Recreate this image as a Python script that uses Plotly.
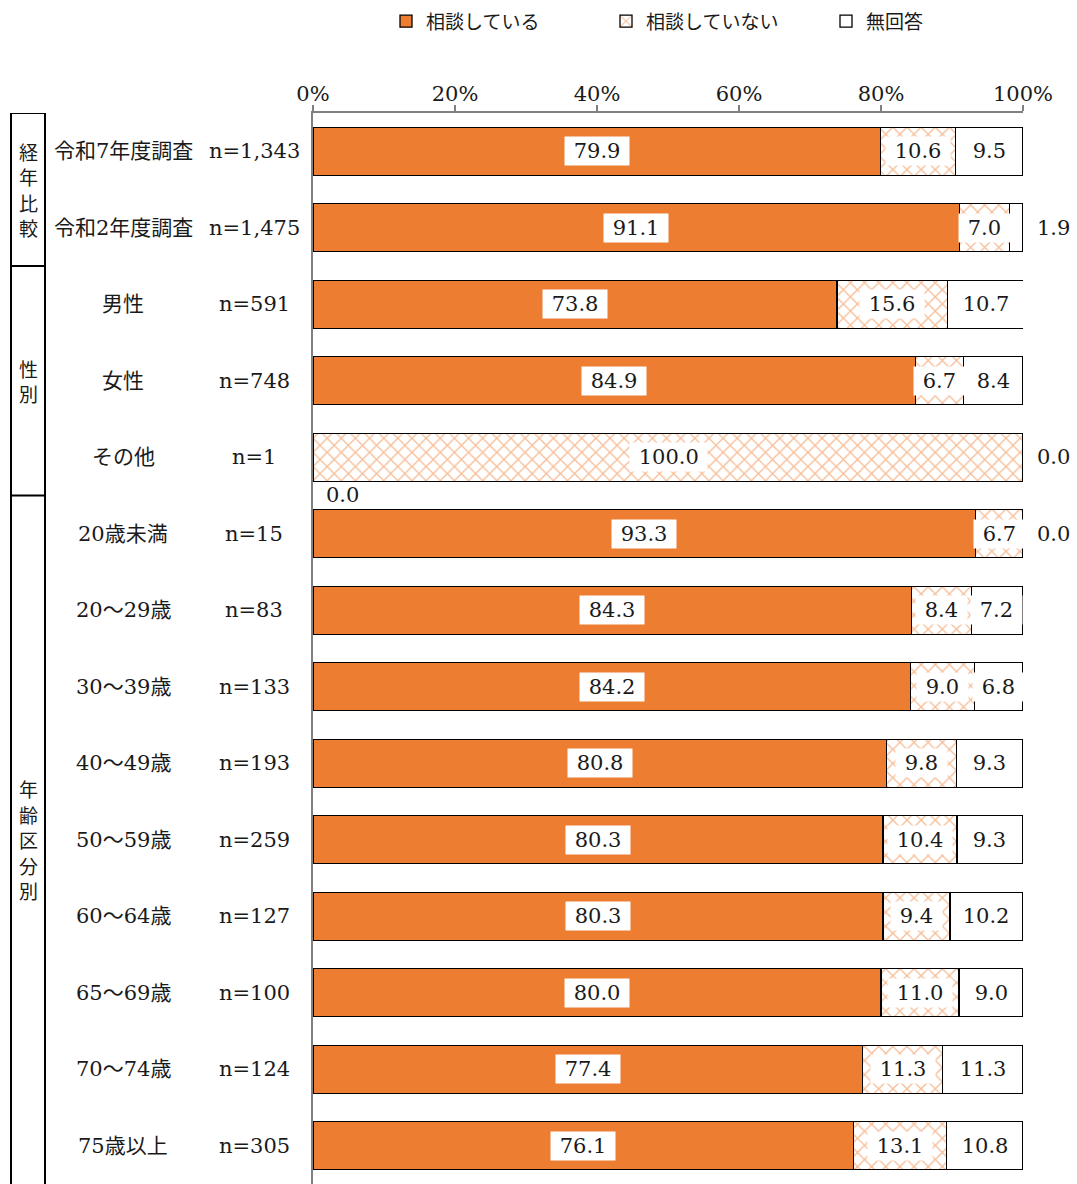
import plotly.graph_objects as go

categories = ["令和7年度調査", "令和2年度調査", "男性", "女性", "その他",
              "20歳未満", "20～29歳", "30～39歳", "40～49歳", "50～59歳",
              "60～64歳", "65～69歳", "70～74歳", "75歳以上"]
n_labels = ["n=1,343", "n=1,475", "n=591", "n=748", "n=1",
            "n=15", "n=83", "n=133", "n=193", "n=259",
            "n=127", "n=100", "n=124", "n=305"]
consulted = [79.9, 91.1, 73.8, 84.9, 0.0, 93.3, 84.3, 84.2, 80.8, 80.3, 80.3, 80.0, 77.4, 76.1]
not_consulted = [10.6, 7.0, 15.6, 6.7, 100.0, 6.7, 8.4, 9.0, 9.8, 10.4, 9.4, 11.0, 11.3, 13.1]
no_answer = [9.5, 1.9, 10.7, 8.4, 0.0, 0.0, 7.2, 6.8, 9.3, 9.3, 10.2, 9.0, 11.3, 10.8]
series_names = ["相談している", "相談していない", "無回答"]
groups = [("経年比較", 0, 1), ("性別", 2, 4), ("年齢区分別", 5, 13)]
tick_vals = [0, 20, 40, 60, 80, 100]
tick_text = ["0%", "20%", "40%", "60%", "80%", "100%"]

ORANGE = "#ED7D31"
NUMFONT = "DejaVu Serif, Noto Sans CJK JP"
JPFONT = "Noto Sans CJK JP"
W, H = 1077, 1184
ML, MR, MT, MB = 313, 54, 113, 0
PW = W - ML - MR

idx = list(range(len(categories)))

fig = go.Figure()
fig.add_trace(go.Bar(
    y=idx, x=consulted, orientation="h", name=series_names[0],
    marker=dict(color=ORANGE, line=dict(color="#000000", width=1.3)),
    hoverinfo="skip"))
fig.add_trace(go.Bar(
    y=idx, x=not_consulted, orientation="h", name=series_names[1],
    marker=dict(color="white", line=dict(color="#000000", width=1.3),
                pattern=dict(shape="x", fgcolor=ORANGE, bgcolor="white",
                             size=10, solidity=0.25, fillmode="overlay")),
    hoverinfo="skip"))
fig.add_trace(go.Bar(
    y=idx, x=no_answer, orientation="h", name=series_names[2],
    marker=dict(color="white", line=dict(color="#000000", width=1.3)),
    hoverinfo="skip"))

annotations = []
def px2paper(px):
    return (px - ML) / PW

# value labels
for i in idx:
    vals = [consulted[i], not_consulted[i], no_answer[i]]
    start = 0.0
    for k, v in enumerate(vals):
        label = f"{v:.1f}"
        if v < 3:
            if k == 0:
                annotations.append(dict(x=0, y=i, xref="x", yref="y", text=label,
                                        showarrow=False, xshift=29, yshift=-38,
                                        xanchor="center",
                                        font=dict(family=NUMFONT, size=21, color="#1a1a1a")))
            else:
                annotations.append(dict(x=100, y=i, xref="x", yref="y", text=label,
                                        showarrow=False, xshift=30, xanchor="center",
                                        font=dict(family=NUMFONT, size=21, color="#1a1a1a")))
        else:
            annotations.append(dict(x=start + v / 2, y=i, xref="x", yref="y",
                                    text=" " + label + " ", showarrow=False,
                                    bgcolor="white", borderpad=2, xanchor="center",
                                    font=dict(family=NUMFONT, size=21, color="#1a1a1a")))
        start += v

# category and n labels
for i in idx:
    annotations.append(dict(x=px2paper(123), y=i, xref="paper", yref="y",
                            text=categories[i], showarrow=False, xanchor="center",
                            font=dict(family=NUMFONT, size=21, color="#1a1a1a")))
    annotations.append(dict(x=px2paper(254), y=i, xref="paper", yref="y",
                            text=n_labels[i], showarrow=False, xanchor="center",
                            font=dict(family=NUMFONT, size=21, color="#1a1a1a")))

# group labels (one character per line) and boxes
shapes = []
bx0, bx1 = px2paper(11), px2paper(45)
STEP = 25.5
for text, a, b in groups:
    n = len(text)
    for j, ch in enumerate(text):
        annotations.append(dict(x=(bx0 + bx1) / 2, y=(a + b) / 2, xref="paper", yref="y",
                                text=ch, showarrow=False, xanchor="center", yanchor="middle",
                                yshift=-(j - (n - 1) / 2) * STEP,
                                font=dict(family=JPFONT, size=19, color="#1a1a1a")))
    shapes.append(dict(type="line", xref="paper", yref="y", x0=bx0, x1=bx1,
                       y0=a - 0.5, y1=a - 0.5, line=dict(color="black", width=2)))
for xx in (bx0, bx1):
    shapes.append(dict(type="line", xref="paper", yref="y", x0=xx, x1=xx,
                       y0=-0.5, y1=14, line=dict(color="black", width=2)))

fig.update_layout(
    width=W, height=H,
    margin=dict(l=ML, r=MR, t=MT, b=MB),
    barmode="stack", bargap=0.373,
    plot_bgcolor="white", paper_bgcolor="white",
    showlegend=True,
    legend=dict(orientation="h", xref="container", yref="container",
                x=386 / W, y=0.998, xanchor="left", yanchor="top",
                entrywidth=175, entrywidthmode="pixels",
                font=dict(family=JPFONT, size=19, color="#1a1a1a"),
                traceorder="normal"),
    xaxis=dict(side="top", range=[0, 100], tickvals=tick_vals, ticktext=tick_text,
               showgrid=False, zeroline=False, showline=True, linecolor="#808080",
               linewidth=1.5, ticks="outside", ticklen=6, tickcolor="#808080",
               tickwidth=1.5, fixedrange=True, ticklabelstandoff=-4,
               tickfont=dict(family=NUMFONT, size=21, color="#1a1a1a")),
    yaxis=dict(showticklabels=False, showgrid=False,
               zeroline=False, showline=True, linecolor="#808080", linewidth=1.5,
               ticks="", autorange=False, range=[13.5, -0.5]),
    annotations=annotations, shapes=shapes,
)

fig.write_html("out.html")
